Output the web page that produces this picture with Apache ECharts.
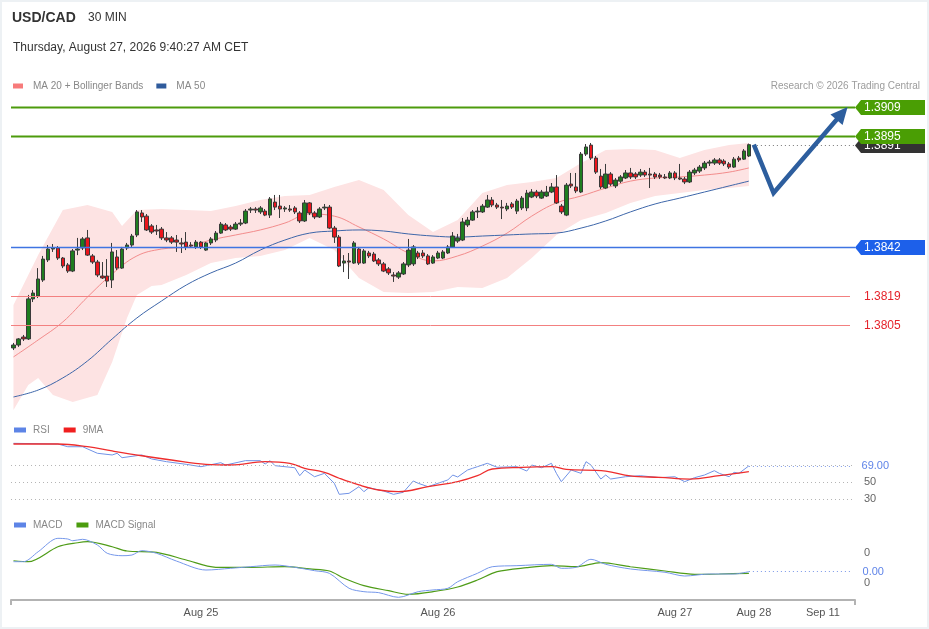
<!DOCTYPE html>
<html><head><meta charset="utf-8">
<script src="https://cdn.jsdelivr.net/npm/echarts@6/dist/echarts.min.js"></script>
<style>
html,body{margin:0;padding:0;background:#fff;}
#wrap{position:relative;width:929px;height:629px;}
#chart{position:absolute;left:0;top:0;width:929px;height:629px;}
#frame{position:absolute;left:0;top:0;width:929px;height:629px;box-sizing:border-box;border:2px solid #edf1f4;pointer-events:none;}
</style></head><body>
<div id="wrap"><div id="chart"></div><div id="frame"></div></div>
<script>
// ---------- DATA ----------
const slotCount = 171;
const xTickIdx = [38, 86, 134, 150, 164];
const xTickText = ['Aug 25', 'Aug 26', 'Aug 27', 'Aug 28', 'Sep 11'];

const open = [
1.37940,1.37954,1.37992,1.37983,1.38174,1.38188,1.38264,1.38360,1.38412,1.38417,
1.38369,1.38336,1.38307,1.38407,1.38417,1.38465,1.38379,1.38350,1.38283,1.38283,
1.38264,1.38374,1.38321,1.38417,1.38431,1.38479,1.38584,1.38569,1.38522,1.38503,
1.38507,1.38465,1.38465,1.38455,1.38441,1.38445,1.38431,1.38422,1.38445,1.38407,
1.38441,1.38455,1.38488,1.38527,1.38517,1.38507,1.38531,1.38536,1.38598,1.38603,
1.38589,1.38593,1.38574,1.38636,1.38617,1.38603,1.38603,1.38608,1.38584,1.38546,
1.38632,1.38584,1.38565,1.38608,1.38612,1.38512,1.38469,1.38345,1.38355,1.38345,
1.38412,1.38345,1.38393,1.38388,1.38360,1.38341,1.38317,1.38288,1.38278,1.38293,
1.38336,1.38341,1.38393,1.38393,1.38379,1.38345,1.38369,1.38369,1.38393,1.38422,
1.38450,1.38455,1.38527,1.38550,1.38589,1.38589,1.38612,1.38646,1.38622,1.38612,
1.38603,1.38627,1.38593,1.38608,1.38608,1.38660,1.38684,1.38655,1.38665,1.38684,
1.38708,1.38617,1.38574,1.38722,1.38708,1.38684,1.38865,1.38908,1.38846,1.38760,
1.38703,1.38770,1.38713,1.38736,1.38751,1.38775,1.38770,1.38765,1.38779,1.38770,
1.38770,1.38765,1.38756,1.38751,1.38775,1.38751,1.38746,1.38732,1.38775,1.38784,
1.38799,1.38822,1.38822,1.38837,1.38832,1.38818,1.38803,1.38846,1.38841,1.38856];
const close = [
1.37954,1.37983,1.37983,1.38174,1.38202,1.38269,1.38364,1.38412,1.38417,1.38369,
1.38331,1.38307,1.38403,1.38412,1.38460,1.38383,1.38350,1.38288,1.38274,1.38259,
1.38398,1.38321,1.38412,1.38431,1.38474,1.38589,1.38565,1.38503,1.38493,1.38498,
1.38465,1.38455,1.38445,1.38445,1.38436,1.38422,1.38426,1.38445,1.38422,1.38441,
1.38460,1.38488,1.38531,1.38503,1.38507,1.38531,1.38536,1.38593,1.38603,1.38598,
1.38608,1.38574,1.38651,1.38612,1.38603,1.38608,1.38598,1.38589,1.38546,1.38632,
1.38584,1.38565,1.38603,1.38612,1.38512,1.38469,1.38331,1.38355,1.38350,1.38441,
1.38345,1.38403,1.38379,1.38355,1.38341,1.38307,1.38298,1.38283,1.38298,1.38341,
1.38407,1.38422,1.38374,1.38379,1.38341,1.38374,1.38393,1.38398,1.38422,1.38474,
1.38465,1.38541,1.38550,1.38589,1.38593,1.38617,1.38646,1.38622,1.38612,1.38608,
1.38617,1.38612,1.38641,1.38655,1.38679,1.38684,1.38665,1.38684,1.38684,1.38708,
1.38632,1.38589,1.38717,1.38713,1.38689,1.38865,1.38899,1.38846,1.38779,1.38708,
1.38770,1.38722,1.38741,1.38756,1.38775,1.38756,1.38756,1.38779,1.38765,1.38765,
1.38756,1.38756,1.38751,1.38775,1.38751,1.38746,1.38732,1.38779,1.38789,1.38803,
1.38822,1.38827,1.38837,1.38822,1.38818,1.38803,1.38841,1.38837,1.38880,1.38910];
const high = [
1.37964,1.37987,1.38002,1.38193,1.38216,1.38321,1.38379,1.38431,1.38436,1.38426,
1.38374,1.38345,1.38412,1.38465,1.38469,1.38503,1.38388,1.38360,1.38350,1.38364,
1.38441,1.38407,1.38422,1.38441,1.38484,1.38598,1.38598,1.38579,1.38531,1.38527,
1.38517,1.38493,1.38474,1.38479,1.38465,1.38493,1.38445,1.38455,1.38450,1.38445,
1.38469,1.38498,1.38541,1.38536,1.38527,1.38541,1.38555,1.38603,1.38612,1.38612,
1.38617,1.38603,1.38660,1.38670,1.38670,1.38617,1.38622,1.38617,1.38593,1.38646,
1.38636,1.38593,1.38612,1.38627,1.38622,1.38522,1.38479,1.38383,1.38393,1.38450,
1.38422,1.38412,1.38403,1.38398,1.38369,1.38350,1.38326,1.38302,1.38307,1.38350,
1.38460,1.38431,1.38403,1.38407,1.38388,1.38383,1.38403,1.38407,1.38431,1.38493,
1.38484,1.38560,1.38565,1.38598,1.38612,1.38627,1.38670,1.38660,1.38632,1.38646,
1.38632,1.38636,1.38651,1.38665,1.38694,1.38698,1.38694,1.38694,1.38713,1.38727,
1.38765,1.38627,1.38727,1.38775,1.38775,1.38875,1.38913,1.38918,1.38856,1.38794,
1.38818,1.38779,1.38751,1.38765,1.38789,1.38799,1.38779,1.38794,1.38789,1.38799,
1.38779,1.38775,1.38770,1.38784,1.38784,1.38818,1.38756,1.38789,1.38799,1.38813,
1.38832,1.38837,1.38846,1.38846,1.38841,1.38827,1.38851,1.38856,1.38889,1.38915];
const low = [
1.37930,1.37945,1.37973,1.37978,1.38159,1.38178,1.38255,1.38350,1.38398,1.38360,
1.38321,1.38298,1.38302,1.38383,1.38407,1.38379,1.38341,1.38278,1.38269,1.38231,
1.38226,1.38312,1.38317,1.38407,1.38422,1.38469,1.38541,1.38498,1.38484,1.38479,
1.38455,1.38445,1.38436,1.38398,1.38393,1.38407,1.38417,1.38412,1.38412,1.38403,
1.38431,1.38445,1.38484,1.38498,1.38498,1.38503,1.38522,1.38531,1.38584,1.38584,
1.38579,1.38569,1.38560,1.38598,1.38560,1.38589,1.38589,1.38579,1.38536,1.38541,
1.38574,1.38555,1.38560,1.38598,1.38507,1.38441,1.38326,1.38302,1.38269,1.38341,
1.38336,1.38341,1.38369,1.38350,1.38331,1.38302,1.38288,1.38255,1.38269,1.38288,
1.38326,1.38331,1.38364,1.38369,1.38336,1.38341,1.38364,1.38364,1.38388,1.38417,
1.38441,1.38450,1.38517,1.38546,1.38560,1.38584,1.38608,1.38612,1.38603,1.38555,
1.38593,1.38603,1.38579,1.38598,1.38593,1.38655,1.38655,1.38651,1.38660,1.38679,
1.38627,1.38579,1.38569,1.38703,1.38679,1.38679,1.38856,1.38837,1.38770,1.38698,
1.38698,1.38713,1.38703,1.38727,1.38746,1.38746,1.38746,1.38756,1.38756,1.38703,
1.38746,1.38746,1.38746,1.38746,1.38741,1.38741,1.38722,1.38727,1.38765,1.38775,
1.38789,1.38808,1.38813,1.38813,1.38808,1.38794,1.38799,1.38827,1.38837,1.38851];

const maIdx = [0,5,10,15,20,25,30,35,40,45,50,55,60,65,70,75,80,85,90,95,100,105,110,115,120,125,130,135,140,145,149];
const ma20 = [1.37897,1.37978,1.38064,1.38183,1.38293,1.38379,1.38412,1.38422,1.38455,1.38479,1.38503,1.38536,1.38579,1.38569,1.38517,1.38460,1.38393,1.38355,1.38379,1.38426,1.38488,1.38569,1.38632,1.38665,1.38703,1.38736,1.38751,1.38756,1.38765,1.38779,1.38799];
const ma50 = [1.37706,1.37739,1.37797,1.37878,1.37983,1.38083,1.38164,1.38240,1.38298,1.38345,1.38407,1.38455,1.38488,1.38498,1.38503,1.38498,1.38484,1.38474,1.38469,1.38474,1.38479,1.38484,1.38488,1.38512,1.38546,1.38589,1.38627,1.38655,1.38684,1.38713,1.38736];

const bbUpperIdx = [0,5,10,15,20,22,25,30,35,40,45,50,55,60,65,70,75,80,85,90,95,100,105,110,115,120,125,130,135,140,145,149];
const bbUpper = [1.38145,1.38383,1.38598,1.38622,1.38589,1.38522,1.38598,1.38603,1.38598,1.38593,1.38617,1.38646,1.38665,1.38670,1.38708,1.38741,1.38694,1.38574,1.38493,1.38550,1.38679,1.38717,1.38732,1.38751,1.38822,1.38884,1.38889,1.38884,1.38846,1.38884,1.38908,1.38918];
const bbLowerIdx = [0,3,5,8,12,17,20,23,25,28,30,35,40,45,50,55,60,65,70,75,80,85,90,95,100,105,110,115,120,125,130,135,140,145,149];
const bbLower = [1.37644,1.37763,1.37797,1.37715,1.37682,1.37715,1.37873,1.38083,1.38193,1.38235,1.38240,1.38288,1.38345,1.38369,1.38379,1.38407,1.38465,1.38407,1.38274,1.38207,1.38202,1.38207,1.38231,1.38226,1.38274,1.38369,1.38479,1.38550,1.38584,1.38632,1.38665,1.38679,1.38694,1.38703,1.38713];

const levelPrices = [1.3891, 1.3909, 1.3895, 1.3842, 1.3819, 1.3805];
const levelKinds = ['last', 'res', 'res', 'pivot', 'sup', 'sup'];

const projIdx = [150, 154, 169];
const projPrice = [1.3891, 1.38679, 1.3909];

const rsiIdx = [0,9,11,14,17,20,21,22,26,28,31,35,38,42,43,47,50,51,52,53,57,58,59,61,63,65,66,68,70,71,72,75,77,79,81,82,84,86,88,89,90,92,93,94,96,98,102,104,105,107,109,110,111,113,115,116,117,119,120,121,124,127,131,134,136,138,140,142,143,145,146,147,149];
const rsi = [95.5,94.7,91.5,91.5,83.8,81.8,83.8,78.6,81.8,77.1,73.9,70.8,68.0,72.7,70.0,75.1,75.1,71.2,75.1,69.2,66.8,57.4,64.1,56.2,60.2,48.5,35.5,36.7,44.5,38.6,43.3,39.4,35.5,37.9,51.2,48.5,44.5,48.5,52.4,58.2,55.9,64.1,66.1,68.0,72.0,67.3,68.0,62.9,70.0,66.8,72.0,60.2,50.4,64.1,60.2,73.9,70.0,53.5,58.2,53.5,56.2,57.4,55.1,56.2,50.4,55.1,58.2,63.3,60.2,56.2,61.4,60.2,69.0];
const rsiMaIdx = [0,9,15,20,26,32,39,44,51,56,59,63,66,70,74,78,84,90,94,97,103,109,112,120,125,131,137,143,149];
const rsiMa = [94.7,94.7,91.5,86.5,80.9,75.9,70.8,70.0,73.9,72.0,66.1,61.4,54.4,46.5,40.6,38.6,44.5,50.4,57.4,65.3,67.3,68.0,64.9,62.9,57.1,55.5,53.5,57.4,62.1];
const rsiLevels = [70, 50, 30];
const rsiTickLabels = [50, 30];

const macdIdx = [0,2,5,9,11,12,14,17,19,22,24,26,29,33,39,44,48,53,57,61,64,68,71,74,78,82,85,88,90,94,97,102,109,111,114,117,120,125,132,136,141,146,149];
const macd = [0.000284,0.000284,0.000417,0.000596,0.000587,0.000564,0.000583,0.000507,0.000396,0.000364,0.000373,0.000431,0.000396,0.000293,0.000173,0.000196,0.000217,0.000240,0.000209,0.000164,0.000129,-0.000071,-0.000116,-0.000129,-0.000191,-0.000116,-0.000093,-0.000071,0.000017,0.000129,0.000217,0.000231,0.000249,0.000196,0.000209,0.000316,0.000249,0.000187,0.000143,0.000093,0.000120,0.000120,0.000151];
const signalIdx = [0,3,9,13,15,20,23,29,35,41,48,55,60,64,67,71,76,80,85,90,94,98,104,109,114,119,125,132,138,143,149];
const signal = [0.000297,0.000284,0.000484,0.000537,0.000551,0.000484,0.000427,0.000409,0.000307,0.000209,0.000209,0.000217,0.000187,0.000160,0.000063,-0.000036,-0.000103,-0.000151,-0.000116,-0.000053,0.000040,0.000151,0.000204,0.000231,0.000217,0.000271,0.000217,0.000160,0.000116,0.000120,0.000129];
const macdTickLabels = [0.0004, 0];

// ---------- CHART ----------
const FONT = "'Liberation Sans', Arial, sans-serif";
const slots = Array.from({length: slotCount}, (_, i) => String(i));
const lastIdx = close.length - 1;
const pairs = (idx, vals) => idx.map((ix, k) => [ix, vals[k]]);

const GL = 11, GR = 74;
const grids = [
  {left: GL, right: GR, top: 95, height: 320},
  {left: GL, right: GR, top: 439.5, height: 85},
  {left: GL, right: GR, top: 530, height: 70}
];

function hiddenX(gi) {
  return {type: 'category', gridIndex: gi, data: slots, boundaryGap: true, show: false};
}

const levelStyle = {
  res:   {line: '#4d9b0c', width: 2, box: '#4a9e04', text: '#fff'},
  last:  {line: '#777', width: 1, box: '#333', text: '#fff', dotted: true},
  pivot: {line: '#3f74e2', width: 1.5, box: '#1d60ea', text: '#fff'},
  sup:   {line: '#f38080', width: 1, box: null, text: '#e5232b'}
};

const legendText = {color: '#888', fontSize: 10, fontFamily: FONT};

const option = {
  animation: false,
  textStyle: {fontFamily: FONT},
  title: [
    {text: 'USD/CAD', left: 12, top: 11, padding: 0, textStyle: {fontSize: 14, fontWeight: 'bold', color: '#333', fontFamily: FONT}},
    {text: '30 MIN', left: 88, top: 12, padding: 0, textStyle: {fontSize: 12, fontWeight: 'normal', color: '#333', fontFamily: FONT}},
    {text: 'Thursday, August 27, 2026 9:40:27 AM CET', left: 13, top: 42, padding: 0, textStyle: {fontSize: 12, fontWeight: 'normal', color: '#333', fontFamily: FONT}},
    {text: 'Research © 2026 Trading Central', right: 9, top: 81, padding: 0, textStyle: {fontSize: 10, fontWeight: 'normal', color: '#9c9c9c', fontFamily: FONT}}
  ],
  legend: [
    {data: ['MA 20 + Bollinger Bands', 'MA 50'], left: 13, top: 81, padding: 0, icon: 'rect', itemWidth: 10, itemHeight: 5, itemGap: 13, selectedMode: false,
     textStyle: Object.assign({padding: [0, 0, 0, 5]}, legendText)},
    {data: ['RSI', '9MA'], left: 14, top: 425, padding: 0, icon: 'rect', itemWidth: 12, itemHeight: 5, itemGap: 14, selectedMode: false,
     textStyle: Object.assign({padding: [0, 0, 0, 2]}, legendText)},
    {data: ['MACD', 'MACD Signal'], left: 14, top: 520, padding: 0, icon: 'rect', itemWidth: 12, itemHeight: 5, itemGap: 14, selectedMode: false,
     textStyle: Object.assign({padding: [0, 0, 0, 2]}, legendText)}
  ],
  grid: grids,
  xAxis: [
    hiddenX(0), hiddenX(1),
    {type: 'category', gridIndex: 2, data: slots, boundaryGap: true,
     axisLine: {show: true, onZero: false, lineStyle: {color: '#b3b3b3', width: 2}},
     axisTick: {show: true, interval: (i) => i === 0, length: 5, lineStyle: {color: '#b3b3b3', width: 2}},
     axisLabel: {interval: (i) => xTickIdx.includes(i), formatter: (v, i) => xTickText[xTickIdx.indexOf(Number(v))] || '',
                 color: '#555', fontSize: 11, margin: 7, fontFamily: FONT},
     splitLine: {show: false}}
  ],
  yAxis: [
    {type: 'value', gridIndex: 0, min: 1.37620, max: 1.39147, show: false},
    {type: 'value', gridIndex: 1, min: 0, max: 100, position: 'right',
     axisLine: {show: false}, axisTick: {show: false}, splitLine: {show: false},
     axisLabel: {customValues: rsiTickLabels, color: '#666', fontSize: 11, margin: 9, fontFamily: FONT}},
    {type: 'value', gridIndex: 2, min: -0.000227, max: 0.000707, position: 'right',
     axisLine: {show: false}, axisTick: {show: false}, splitLine: {show: false},
     axisLabel: {customValues: macdTickLabels, formatter: (v) => String(Math.round(v)), color: '#666', fontSize: 11, margin: 9, fontFamily: FONT}}
  ],
  series: [
    // Bollinger band area
    {type: 'custom', xAxisIndex: 0, yAxisIndex: 0, z: 1, silent: true,
     data: [[0, bbUpper[0]]],
     renderItem: function (params, api) {
       const up = bbUpperIdx.map((ix, k) => api.coord([ix, bbUpper[k]]));
       const lo = bbLowerIdx.map((ix, k) => api.coord([ix, bbLower[k]])).reverse();
       return {type: 'polygon', shape: {points: up.concat(lo)}, style: {fill: '#fde3e3'}};
     }},
    {name: 'MA 20 + Bollinger Bands', type: 'line', xAxisIndex: 0, yAxisIndex: 0, z: 2, data: pairs(maIdx, ma20),
     smooth: 0.4, showSymbol: false, lineStyle: {color: '#f38c8c', width: 1}, itemStyle: {color: '#f77b7b'}},
    {name: 'MA 50', type: 'line', xAxisIndex: 0, yAxisIndex: 0, z: 2, data: pairs(maIdx, ma50),
     smooth: 0.4, showSymbol: false, lineStyle: {color: '#3d66a9', width: 1}, itemStyle: {color: '#2f5b9c'}},
    {type: 'candlestick', xAxisIndex: 0, yAxisIndex: 0, z: 3, barWidth: 4,
     data: open.map((o, i) => [o, close[i], low[i], high[i]]),
     itemStyle: {color: '#1f7d1f', color0: '#ec151c', borderColor: '#3a3a3a', borderColor0: '#3a3a3a', borderWidth: 1}},
    // level lines & labels
    {type: 'custom', xAxisIndex: 0, yAxisIndex: 0, z: 4, silent: true,
     data: levelPrices.map((v) => [0, v]),
     renderItem: function (params, api) {
       const v = api.value(1);
       const kind = levelKinds[params.dataIndex];
       const st = levelStyle[kind];
       const cs = params.coordSys;
       const y = Math.round(api.coord([0, v])[1]) + 0.5;
       const x0 = cs.x, x1 = cs.x + cs.width;
       const ch = [];
       const xs = kind === 'last' ? api.coord([lastIdx, v])[0] + 4 : x0;
       const xe = kind === 'sup' ? x1 - 5 : x1;
       ch.push({type: 'line', shape: {x1: xs, y1: y, x2: xe, y2: y},
                style: {stroke: st.line, lineWidth: st.width, lineDash: st.dotted ? [1, 3] : null}});
       if (st.box) {
         const h = 7.5;
         ch.push({type: 'polygon', shape: {points: [[x1, y], [x1 + 6, y - h], [x1 + 70, y - h], [x1 + 70, y + h], [x1 + 6, y + h]]},
                  style: {fill: st.box}});
       }
       ch.push({type: 'text', style: {text: v.toFixed(4), x: x1 + 9, y: y, fill: st.text,
                font: '12px ' + FONT, align: 'left', verticalAlign: 'middle'}});
       return {type: 'group', children: ch};
     }},
    // projection arrow
    {type: 'custom', xAxisIndex: 0, yAxisIndex: 0, z: 5, silent: true,
     data: [[projIdx[0], projPrice[0]]],
     renderItem: function (params, api) {
       const p = projIdx.map((ix, k) => api.coord([ix, projPrice[k]]));
       const tip = p[p.length - 1], prev = p[p.length - 2];
       let dx = tip[0] - prev[0], dy = tip[1] - prev[1];
       const len = Math.sqrt(dx * dx + dy * dy); dx /= len; dy /= len;
       const hl = 17, hw = 8;
       const bx = tip[0] - dx * hl, by = tip[1] - dy * hl;
       const pts = p.slice(0, -1).concat([[bx + dx * 3, by + dy * 3]]);
       return {type: 'group', children: [
         {type: 'polyline', shape: {points: pts}, style: {stroke: '#2d5e9e', lineWidth: 4.5, fill: null, lineJoin: 'miter'}},
         {type: 'polygon', shape: {points: [tip, [bx - dy * hw, by + dx * hw], [bx + dy * hw, by - dx * hw]]}, style: {fill: '#2d5e9e'}}
       ]};
     }},
    // RSI
    {name: 'RSI', type: 'line', xAxisIndex: 1, yAxisIndex: 1, data: pairs(rsiIdx, rsi), showSymbol: false, z: 3,
     lineStyle: {color: '#7092e6', width: 1}, itemStyle: {color: '#5d84e6'},
     markLine: {silent: true, symbol: ['none', 'none'], animation: false,
       data: rsiLevels.map((lv) => ({yAxis: lv, lineStyle: {color: '#b5b5b5', type: [1, 3], width: 1}, label: {show: false}}))
         .concat([[{coord: [lastIdx, rsi[rsi.length - 1]], lineStyle: {color: '#7b98e8', type: [1, 3], width: 1.2},
                    label: {show: true, position: 'end', distance: 9, formatter: rsi[rsi.length - 1].toFixed(2), color: '#5f84e8', fontSize: 11, fontFamily: FONT, backgroundColor: '#fff'}},
                   {coord: [slotCount - 1, rsi[rsi.length - 1]]}]])}},
    {name: '9MA', type: 'line', xAxisIndex: 1, yAxisIndex: 1, data: pairs(rsiMaIdx, rsiMa), showSymbol: false, smooth: 0.4, z: 4,
     lineStyle: {color: '#ee2d2d', width: 1.3}, itemStyle: {color: '#f01f1f'}},
    // MACD
    {name: 'MACD', type: 'line', xAxisIndex: 2, yAxisIndex: 2, data: pairs(macdIdx, macd), showSymbol: false, smooth: 0.3, z: 4,
     lineStyle: {color: '#7597ea', width: 1}, itemStyle: {color: '#5d84e6'},
     markLine: {silent: true, symbol: ['none', 'none'], animation: false,
       data: [[{coord: [lastIdx, macd[macd.length - 1]], lineStyle: {color: '#7b98e8', type: [1, 3], width: 1.2},
                label: {show: true, position: 'end', distance: 8, formatter: macd[macd.length - 1].toFixed(2), color: '#5f84e8', fontSize: 11, fontFamily: FONT, backgroundColor: '#fff', padding: [1, 2]}},
               {coord: [slotCount - 1, macd[macd.length - 1]]}]]}},
    {name: 'MACD Signal', type: 'line', xAxisIndex: 2, yAxisIndex: 2, data: pairs(signalIdx, signal), showSymbol: false, smooth: 0.3, z: 3,
     lineStyle: {color: '#4f9c18', width: 1.2}, itemStyle: {color: '#4b9c0e'}}
  ]
};

const chart = echarts.init(document.getElementById('chart'), null, {renderer: 'canvas'});
chart.setOption(option);
</script>
</body></html>
